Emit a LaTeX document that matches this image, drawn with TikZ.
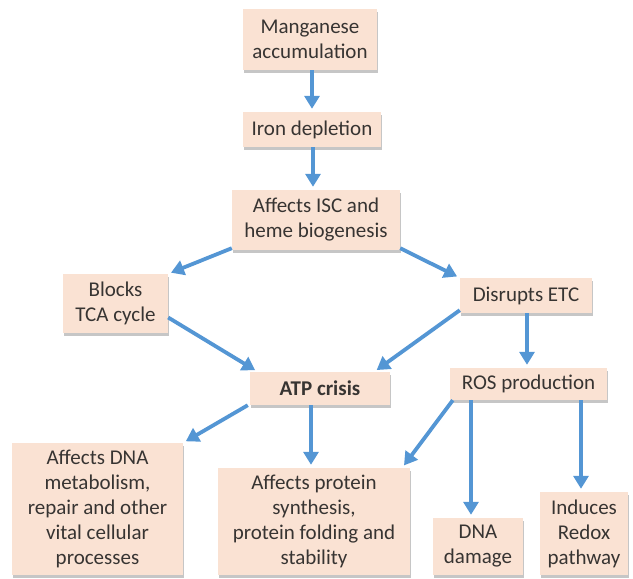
\documentclass[tikz,border=0pt]{standalone}
\usepackage{fontspec}
\setmainfont{Carlito}
\usetikzlibrary{arrows.meta,shadows}
\definecolor{boxfill}{RGB}{250,226,211}
\definecolor{arrowblue}{RGB}{84,150,212}
\definecolor{txt}{RGB}{55,52,50}
\tikzset{
  box/.style={rectangle, fill=boxfill, draw=none, align=center, inner sep=0pt,
    text=txt, font=\fontsize{21}{25}\selectfont,
    drop shadow={shadow xshift=1pt, shadow yshift=-2.5pt, opacity=0.45, fill=gray}},
  arr/.style={draw=arrowblue, line width=3.8pt, shorten >=3pt,
    -{Triangle[length=13pt,width=15pt]}}
}
\begin{document}
\begin{tikzpicture}[x=1pt,y=-1pt]
\useasboundingbox (0,0) rectangle (633,579);
\node[box, minimum width=134pt, minimum height=61pt] (man) at (310,39.5) {Manganese\\accumulation};
\node[box, minimum width=138pt, minimum height=35pt] (iron) at (312,129.5) {Iron depletion};
\node[box, minimum width=168pt, minimum height=60pt] (isc) at (316,220) {Affects ISC and\\heme biogenesis};
\node[box, minimum width=105pt, minimum height=59pt] (tca) at (115.5,303.5) {Blocks\\TCA cycle};
\node[box, minimum width=132pt, minimum height=35pt] (etc) at (526,295.5) {Disrupts ETC};
\node[box, minimum width=140pt, minimum height=33pt, font=\fontsize{21}{25}\selectfont\bfseries] (atp) at (320,388.5) {ATP crisis};
\node[box, minimum width=157pt, minimum height=32pt] (ros) at (528.5,384) {ROS production};
\node[box, minimum width=171pt, minimum height=132pt] (dna) at (97.5,509) {Affects DNA\\metabolism,\\repair and other\\vital cellular\\processes};
\node[box, minimum width=192pt, minimum height=107pt] (prot) at (314,521.5) {Affects protein\\synthesis,\\protein folding and\\stability};
\node[box, minimum width=90pt, minimum height=57pt] (dmg) at (478,546.5) {DNA\\damage};
\node[box, minimum width=88pt, minimum height=83pt] (redox) at (584,533.5) {Induces\\Redox\\pathway};

\draw[arr] ([xshift=2pt]man.south) -- ([xshift=2pt]man.south |- iron.north);
\draw[arr] ([xshift=1pt]iron.south) -- ([xshift=1pt]iron.south |- isc.north);
\draw[arr] ([yshift=2pt]isc.south west) -- (tca.north east);
\draw[arr] ([yshift=2pt]isc.south east) -- (etc.north west);
\draw[arr] ([yshift=-14pt]tca.east) -- ([xshift=8pt]atp.north west);
\draw[arr] ([yshift=3pt]etc.south west) -- ([xshift=-16pt]atp.north east);
\draw[arr] ([xshift=1pt]etc.south) -- ([xshift=1pt]etc.south |- ros.north);
\draw[arr] ([xshift=-2pt]atp.south west) -- (dna.north east);
\draw[arr] ([xshift=-3pt]prot.north |- atp.south) -- ([xshift=-3pt]prot.north);
\draw[arr] ([xshift=3pt]ros.south west) -- ([xshift=-8pt]prot.north east);
\draw[arr] ([xshift=-7pt]dmg.north |- ros.south) -- ([xshift=-7pt]dmg.north);
\draw[arr] ([xshift=-3pt]redox.north |- ros.south) -- ([xshift=-3pt]redox.north);
\end{tikzpicture}
\end{document}
